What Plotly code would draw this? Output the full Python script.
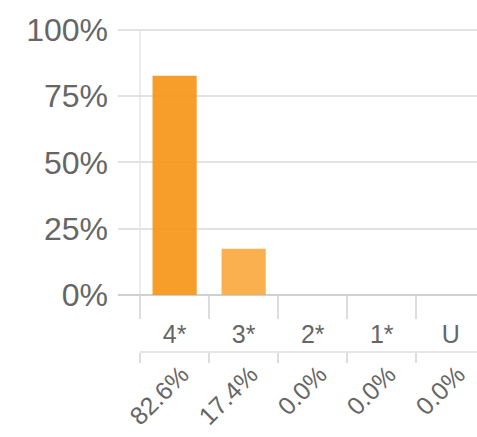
import plotly.graph_objects as go

categories = ["4*", "3*", "2*", "1*", "U"]
values = [82.6, 17.4, 0.0, 0.0, 0.0]
pct_labels = ["82.6%", "17.4%", "0.0%", "0.0%", "0.0%"]
bar_colors = ["#F7961A", "#FBAB42", "#FBAB42", "#FBAB42", "#FBAB42"]
y_ticks = [0, 25, 50, 75, 100]
y_tick_text = ["0%", "25%", "50%", "75%", "100%"]

FONT = "Liberation Sans, Arial, sans-serif"
GREY = "#666666"
LINE = "#DDDDDD"

n = len(categories)
xr = [-0.82, n - 1 + 0.38]

fig = go.Figure()
fig.add_trace(go.Bar(
    x=categories, y=values, marker=dict(color=bar_colors, line=dict(width=0)),
    opacity=0.93, width=0.64, showlegend=False, hoverinfo="skip",
))
# invisible trace to drive the second (percentage) axis
fig.add_trace(go.Scatter(
    x=categories, y=values, xaxis="x2", mode="markers",
    marker=dict(opacity=0), showlegend=False, hoverinfo="skip",
))

shapes = [
    dict(type="line", xref="x", yref="y", x0=-0.5, x1=-0.5, y0=0, y1=100,
         line=dict(color="#E6E6E6", width=1.5), layer="below"),
    dict(type="line", xref="x", yref="paper", x0=-0.5, x1=xr[1], y0=0, y1=0,
         line=dict(color=LINE, width=1.5)),
]

fig.update_layout(
    template="none",
    width=477, height=437,
    margin=dict(l=118, r=0, t=28, b=85, autoexpand=False),
    paper_bgcolor="white", plot_bgcolor="white",
    font=dict(family=FONT, color=GREY),
    bargap=0.36,
    shapes=shapes,
    yaxis=dict(
        domain=[57 / 324, 1], range=[0, 100.6],
        tickmode="array", tickvals=y_ticks, ticktext=y_tick_text,
        tickfont=dict(size=32, color=GREY),
        showgrid=True, gridcolor="#E2E2E2", gridwidth=1.5,
        zeroline=True, zerolinecolor="#D0D0D0", zerolinewidth=1.5,
        ticks="", ticklabelstandoff=9, fixedrange=True, automargin=False,
    ),
    xaxis=dict(
        type="category", range=xr, anchor="y",
        tickson="boundaries", ticks="outside", ticklen=23, tickwidth=1.5,
        tickcolor=LINE, tickfont=dict(size=25, color=GREY),
        ticklabelstandoff=22,
        showgrid=False, showline=False, zeroline=False, fixedrange=True,
        automargin=False,
    ),
    xaxis2=dict(
        type="category", range=xr, overlaying="x", anchor="free", position=0,
        side="bottom", tickmode="array", tickvals=categories, ticktext=pct_labels,
        tickson="boundaries", ticks="outside", ticklen=10, tickwidth=1.5,
        tickcolor=LINE, tickangle=-45, tickfont=dict(size=25, color=GREY),
        ticklabelstandoff=2, ticklabelshift=7,
        showgrid=False, showline=False, zeroline=False, fixedrange=True,
        automargin=False,
    ),
)

fig.write_html(
    "out.html",
    config={"displayModeBar": False},
    post_script="document.body.style.margin='0';document.body.style.overflow='hidden';",
)
